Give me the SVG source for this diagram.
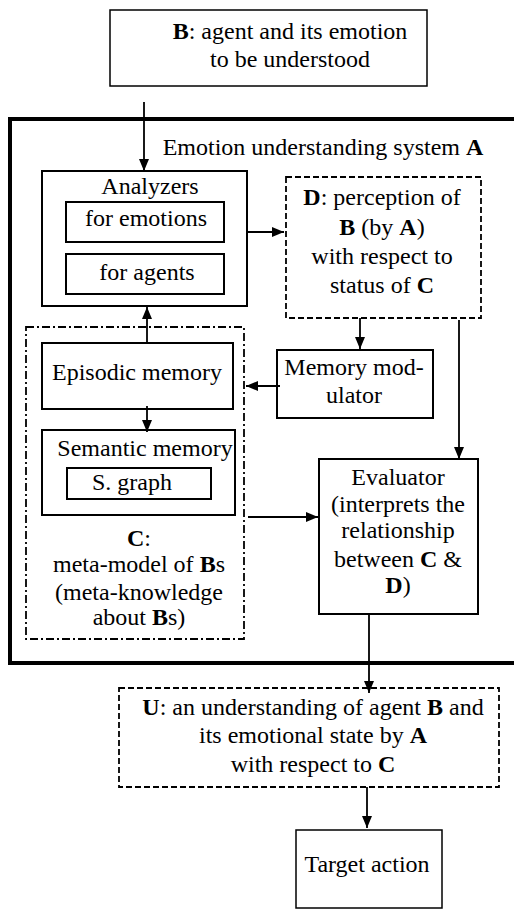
<svg xmlns="http://www.w3.org/2000/svg" width="514" height="909" viewBox="0 0 514 909">
  <style>
    .b { font-weight: bold; }
    .box { fill: #fff; stroke: #000; stroke-width: 2; }
    .thin { fill: #fff; stroke: #000; stroke-width: 1.5; }
    .dash { fill: none; stroke: #000; stroke-width: 1.8; stroke-dasharray: 6 3; }
    .dashdot { fill: none; stroke: #000; stroke-width: 1.8; stroke-dasharray: 8 3 2 3; }
    .line { fill: none; stroke: #000; stroke-width: 1.8; marker-end: url(#arrow); }
  </style>
  <defs>
    <marker id="arrow" viewBox="0 0 12 10" refX="12" refY="5" markerWidth="12" markerHeight="10" markerUnits="userSpaceOnUse" orient="auto">
      <path d="M0,0 L12,5 L0,10 Z" fill="#000"/>
    </marker>
  </defs>
  <rect width="514" height="909" fill="#fff"/>

  <g font-family="Liberation Serif" font-size="24" text-anchor="middle" fill="#000">
    <!-- B: the agent to be understood -->
    <g id="nodeB">
      <rect class="thin" x="110" y="10" width="317" height="76"/>
      <text x="290" y="39"><tspan class="b">B</tspan>: agent and its emotion</text>
      <text x="290" y="67">to be understood</text>
    </g>

    <!-- A: system boundary -->
    <g id="systemA">
      <rect x="10" y="119" width="520" height="544" fill="none" stroke="#000" stroke-width="4"/>
      <text x="323" y="155">Emotion understanding system <tspan class="b">A</tspan></text>
    </g>

    <!-- C: meta-model container -->
    <g id="nodeC">
      <rect class="dashdot" x="26" y="327" width="218" height="312"/>
      <text x="139" y="546"><tspan class="b">C</tspan>:</text>
      <text x="139" y="572">meta-model of <tspan class="b">B</tspan>s</text>
      <text x="139" y="600">(meta-knowledge</text>
      <text x="139" y="625">about <tspan class="b">B</tspan>s)</text>
    </g>

    <g id="analyzers">
      <rect class="box" x="42" y="171" width="205" height="135"/>
      <text x="150" y="194">Analyzers</text>
      <rect class="box" x="66" y="202" width="158" height="40"/>
      <text x="146" y="226">for emotions</text>
      <rect class="box" x="66" y="254" width="158" height="40"/>
      <text x="147" y="280">for agents</text>
    </g>

    <g id="nodeD">
      <rect class="dash" x="286" y="177" width="195" height="141"/>
      <text x="382" y="205"><tspan class="b">D</tspan>: perception of</text>
      <text x="382" y="235"><tspan class="b">B</tspan> (by <tspan class="b">A</tspan>)</text>
      <text x="382" y="264">with respect to</text>
      <text x="382" y="293">status of <tspan class="b">C</tspan></text>
    </g>

    <g id="episodic">
      <rect class="box" x="42" y="343" width="191" height="66"/>
      <text x="137" y="380">Episodic memory</text>
    </g>

    <g id="semantic">
      <rect class="box" x="42" y="430" width="193" height="85"/>
      <text x="145" y="456">Semantic memory</text>
      <rect class="box" x="67" y="468" width="144" height="31"/>
      <text x="132" y="490">S. graph</text>
    </g>

    <g id="modulator">
      <rect class="box" x="277" y="350" width="156" height="68"/>
      <text x="354" y="375">Memory mod-</text>
      <text x="354" y="403">ulator</text>
    </g>

    <g id="evaluator">
      <rect class="box" x="319" y="459" width="159" height="155"/>
      <text x="398" y="485">Evaluator</text>
      <text x="398" y="512">(interprets the</text>
      <text x="398" y="538">relationship</text>
      <text x="398" y="567">between <tspan class="b">C</tspan> &amp;</text>
      <text x="398" y="593"><tspan class="b">D</tspan>)</text>
    </g>

    <g id="nodeU">
      <rect class="dash" x="119" y="688" width="380" height="99"/>
      <text x="313" y="715"><tspan class="b">U</tspan>: an understanding of agent <tspan class="b">B</tspan> and</text>
      <text x="313" y="743">its emotional state by <tspan class="b">A</tspan></text>
      <text x="313" y="772">with respect to <tspan class="b">C</tspan></text>
    </g>

    <g id="target">
      <rect class="thin" x="296" y="830" width="146" height="78"/>
      <text x="367" y="872">Target action</text>
    </g>
  </g>

  <!-- connectors -->
  <g id="connectors">
    <line class="line" x1="144" y1="102" x2="144" y2="171"/>
    <line class="line" x1="248" y1="232" x2="284" y2="232"/>
    <line class="line" x1="147" y1="343" x2="147" y2="307"/>
    <line class="line" x1="147" y1="406" x2="147" y2="432"/>
    <line class="line" x1="360" y1="318" x2="360" y2="349"/>
    <line class="line" x1="280" y1="386" x2="246" y2="386"/>
    <line class="line" x1="459" y1="320" x2="459" y2="459"/>
    <line class="line" x1="248" y1="517" x2="318" y2="517"/>
    <line class="line" x1="369" y1="614" x2="369" y2="693"/>
    <line class="line" x1="367" y1="787" x2="367" y2="828"/>
  </g>
</svg>
